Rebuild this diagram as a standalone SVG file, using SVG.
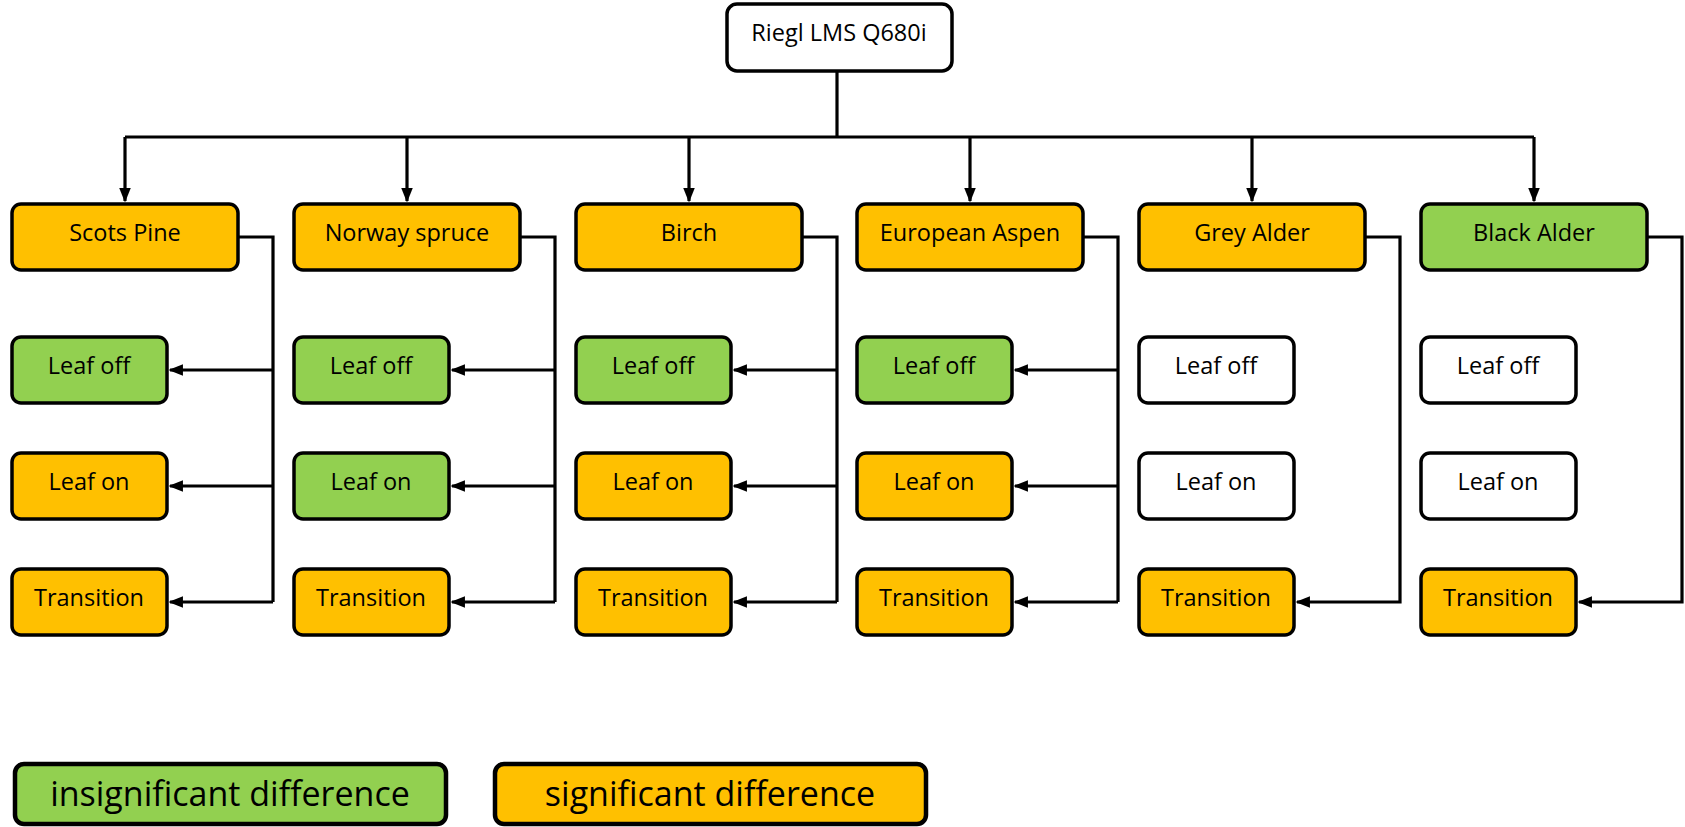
<svg xmlns="http://www.w3.org/2000/svg" width="1685" height="827" viewBox="0 0 1685 827">
<defs>
<style>
.b{stroke:#000;stroke-width:3.5}
.o{fill:#FFC000}.g{fill:#92D050}.w{fill:#fff}
.t{font-family:"Open Sans","Noto Sans",sans-serif;font-size:23.5px;fill:#000;text-anchor:middle;dominant-baseline:central}
.l{font-family:"Open Sans","Noto Sans",sans-serif;font-size:34px;fill:#000;text-anchor:middle;dominant-baseline:central}
.c{fill:none;stroke:#000;stroke-width:3.2}
</style>
<marker id="a" viewBox="0 0 10 10" refX="9" refY="5" markerWidth="4.5" markerHeight="4.5" orient="auto" markerUnits="strokeWidth"><path d="M0,1 L10,5 L0,9 Z" fill="#000"/></marker>
</defs>
<rect width="1685" height="827" fill="#fff"/>
<g id="connectors" class="c">
<path d="M837,72 V137"/>
<path d="M125,137 H1534"/>
<path d="M125,137 V201" marker-end="url(#a)"/>
<path d="M407,137 V201" marker-end="url(#a)"/>
<path d="M689,137 V201" marker-end="url(#a)"/>
<path d="M970,137 V201" marker-end="url(#a)"/>
<path d="M1252,137 V201" marker-end="url(#a)"/>
<path d="M1534,137 V201" marker-end="url(#a)"/>
<path d="M238,237 H273 V602"/>
<path d="M273,370 H170" marker-end="url(#a)"/>
<path d="M273,486 H170" marker-end="url(#a)"/>
<path d="M273,602 H170" marker-end="url(#a)"/>
<path d="M520,237 H555 V602"/>
<path d="M555,370 H452" marker-end="url(#a)"/>
<path d="M555,486 H452" marker-end="url(#a)"/>
<path d="M555,602 H452" marker-end="url(#a)"/>
<path d="M802,237 H837 V602"/>
<path d="M837,370 H734" marker-end="url(#a)"/>
<path d="M837,486 H734" marker-end="url(#a)"/>
<path d="M837,602 H734" marker-end="url(#a)"/>
<path d="M1083,237 H1118 V602"/>
<path d="M1118,370 H1015" marker-end="url(#a)"/>
<path d="M1118,486 H1015" marker-end="url(#a)"/>
<path d="M1118,602 H1015" marker-end="url(#a)"/>
<path d="M1365,237 H1400 V602 H1297" marker-end="url(#a)"/>
<path d="M1647,237 H1682 V602 H1579" marker-end="url(#a)"/>
</g>
<g id="root"><rect class="b w" x="727" y="4" width="225" height="67" rx="10"/><text class="t" x="839" y="32">Riegl LMS Q680i</text></g>
<g id="scots-pine"><rect class="b o" x="12" y="204" width="226" height="66" rx="9"/><text class="t" x="125" y="232">Scots Pine</text></g>
<g id="scots-pine-leaf-off"><rect class="b g" x="12" y="337" width="155" height="66" rx="9"/><text class="t" x="89" y="365">Leaf off</text></g>
<g id="scots-pine-leaf-on"><rect class="b o" x="12" y="453" width="155" height="66" rx="9"/><text class="t" x="89" y="481">Leaf on</text></g>
<g id="scots-pine-transition"><rect class="b o" x="12" y="569" width="155" height="66" rx="9"/><text class="t" x="89" y="597">Transition</text></g>
<g id="norway-spruce"><rect class="b o" x="294" y="204" width="226" height="66" rx="9"/><text class="t" x="407" y="232">Norway spruce</text></g>
<g id="norway-spruce-leaf-off"><rect class="b g" x="294" y="337" width="155" height="66" rx="9"/><text class="t" x="371" y="365">Leaf off</text></g>
<g id="norway-spruce-leaf-on"><rect class="b g" x="294" y="453" width="155" height="66" rx="9"/><text class="t" x="371" y="481">Leaf on</text></g>
<g id="norway-spruce-transition"><rect class="b o" x="294" y="569" width="155" height="66" rx="9"/><text class="t" x="371" y="597">Transition</text></g>
<g id="birch"><rect class="b o" x="576" y="204" width="226" height="66" rx="9"/><text class="t" x="689" y="232">Birch</text></g>
<g id="birch-leaf-off"><rect class="b g" x="576" y="337" width="155" height="66" rx="9"/><text class="t" x="653" y="365">Leaf off</text></g>
<g id="birch-leaf-on"><rect class="b o" x="576" y="453" width="155" height="66" rx="9"/><text class="t" x="653" y="481">Leaf on</text></g>
<g id="birch-transition"><rect class="b o" x="576" y="569" width="155" height="66" rx="9"/><text class="t" x="653" y="597">Transition</text></g>
<g id="european-aspen"><rect class="b o" x="857" y="204" width="226" height="66" rx="9"/><text class="t" x="970" y="232">European Aspen</text></g>
<g id="european-aspen-leaf-off"><rect class="b g" x="857" y="337" width="155" height="66" rx="9"/><text class="t" x="934" y="365">Leaf off</text></g>
<g id="european-aspen-leaf-on"><rect class="b o" x="857" y="453" width="155" height="66" rx="9"/><text class="t" x="934" y="481">Leaf on</text></g>
<g id="european-aspen-transition"><rect class="b o" x="857" y="569" width="155" height="66" rx="9"/><text class="t" x="934" y="597">Transition</text></g>
<g id="grey-alder"><rect class="b o" x="1139" y="204" width="226" height="66" rx="9"/><text class="t" x="1252" y="232">Grey Alder</text></g>
<g id="grey-alder-leaf-off"><rect class="b w" x="1139" y="337" width="155" height="66" rx="9"/><text class="t" x="1216" y="365">Leaf off</text></g>
<g id="grey-alder-leaf-on"><rect class="b w" x="1139" y="453" width="155" height="66" rx="9"/><text class="t" x="1216" y="481">Leaf on</text></g>
<g id="grey-alder-transition"><rect class="b o" x="1139" y="569" width="155" height="66" rx="9"/><text class="t" x="1216" y="597">Transition</text></g>
<g id="black-alder"><rect class="b g" x="1421" y="204" width="226" height="66" rx="9"/><text class="t" x="1534" y="232">Black Alder</text></g>
<g id="black-alder-leaf-off"><rect class="b w" x="1421" y="337" width="155" height="66" rx="9"/><text class="t" x="1498" y="365">Leaf off</text></g>
<g id="black-alder-leaf-on"><rect class="b w" x="1421" y="453" width="155" height="66" rx="9"/><text class="t" x="1498" y="481">Leaf on</text></g>
<g id="black-alder-transition"><rect class="b o" x="1421" y="569" width="155" height="66" rx="9"/><text class="t" x="1498" y="597">Transition</text></g>
<g id="legend-insignificant"><rect class="g" stroke="#000" stroke-width="4.5" x="15" y="764" width="431" height="60" rx="9"/><text class="l" x="230" y="793">insignificant difference</text></g>
<g id="legend-significant"><rect class="o" stroke="#000" stroke-width="4.5" x="495" y="764" width="431" height="60" rx="9"/><text class="l" x="710" y="793">significant difference</text></g>
</svg>
